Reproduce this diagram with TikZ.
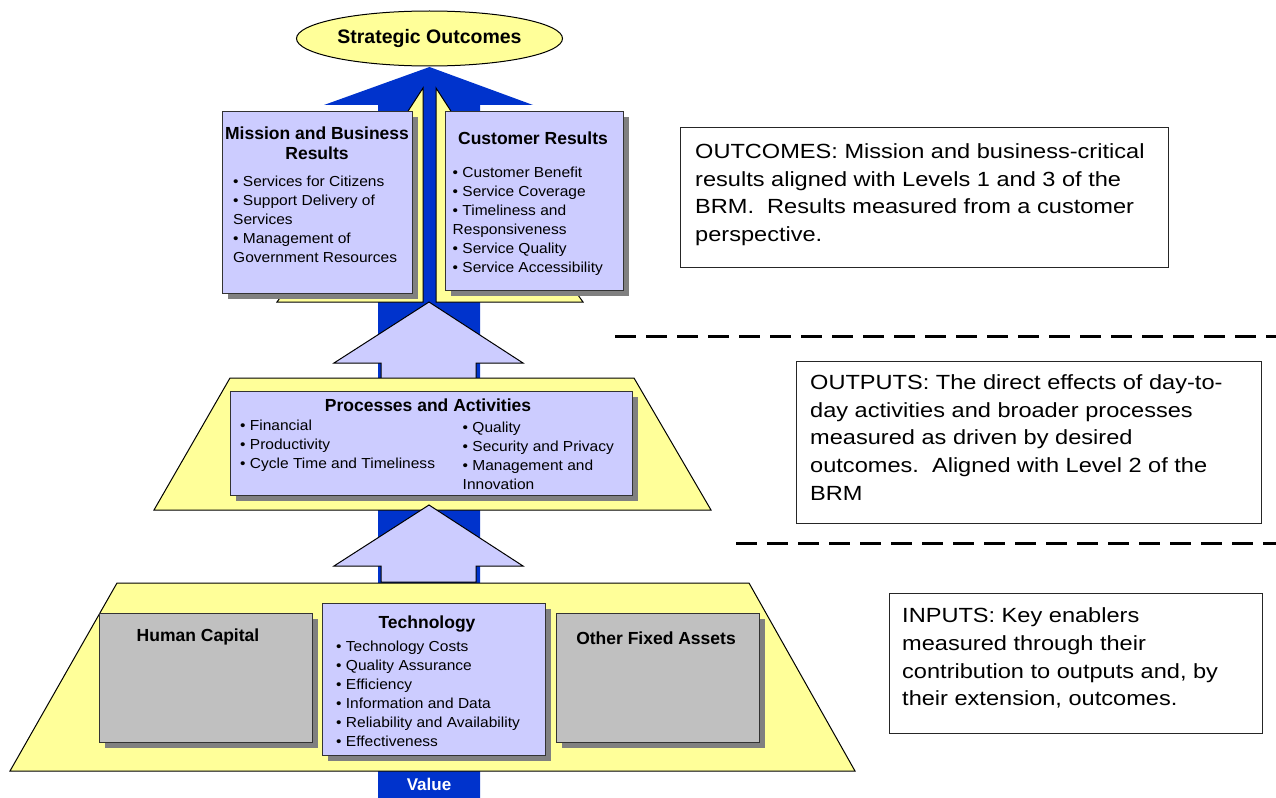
\documentclass[tikz,border=0pt]{standalone}
\usepackage{fontspec}
\setmainfont{Liberation Sans}
\newfontfamily\notefont[FakeStretch=1.15]{Liberation Sans}
\newfontfamily\itemfont[FakeStretch=1.07]{Liberation Sans}
\usetikzlibrary{shapes.geometric,shadows}
\definecolor{brmyellow}{HTML}{FFFF99}
\definecolor{brmlav}{HTML}{CCCCFF}
\definecolor{brmblue}{HTML}{0033CC}
\definecolor{brmgray}{HTML}{C0C0C0}
\definecolor{brmshade}{HTML}{808080}

\begin{document}
\begin{tikzpicture}[x=1bp,y=-1bp,
    level box/.style={draw=black!80,line width=1.2bp,anchor=north west,inner sep=0pt,
      drop shadow={shadow xshift=5bp,shadow yshift=-5.5bp,fill=brmshade,opacity=1}},
    lav box/.style={level box,fill=brmlav},
    grey box/.style={level box,fill=brmgray},
    note box/.style={draw=black!85,line width=1.2bp,fill=white,anchor=north west,inner sep=0pt},
    box title/.style={font=\fontsize{17.5bp}{20bp}\selectfont\bfseries,align=center,anchor=base,inner sep=0pt},
    item list/.style={font=\itemfont\fontsize{14.5bp}{19bp}\selectfont,align=left,anchor=north west,inner sep=0pt},
    note text/.style={font=\notefont\fontsize{20.5bp}{27.7bp}\selectfont,align=left,anchor=north west,inner sep=0pt},
    band/.style={fill=brmyellow,draw=black,line width=1bp},
    lift arrow/.style={fill=brmlav,draw=black,line width=1bp},
    level line/.style={line width=3bp,dash pattern=on 21bp off 10bp}]
  \useasboundingbox (0,0) rectangle (1276,798);

  \fill[brmblue] (378,798) -- (378,105) -- (324,105) -- (429.5,67) -- (533,105) -- (480,105) -- (480,798) -- cycle;
  \draw[band] (277,302) -- (423,302) -- (423,88) -- (401,122) -- (330,122) -- (300,270) -- cycle;
  \draw[band] (436,302) -- (583,302) -- (560,270) -- (560,122) -- (458,122) -- (436,88) -- cycle;

  \node[lav box,minimum width=190bp,minimum height=182bp] (mission) at (222,111) {};
  \node[lav box,minimum width=178bp,minimum height=179bp] (customer) at (445,111) {};
  \node[box title,anchor=north] (missionT) at (317,126.5) {Mission and Business\\Results};
  \node[item list] (missionL) at (233,175.4) {• Services for Citizens\\• Support Delivery of\\Services\\• Management of\\Government Resources};
  \node[box title] (customerT) at (533,144) {Customer Results};
  \node[item list] (customerL) at (452.5,166.6) {• Customer Benefit\\• Service Coverage\\• Timeliness and\\Responsiveness\\• Service Quality\\• Service Accessibility};

  \draw[lift arrow] (381,385) -- (381,363) -- (334,363) -- (429,302) -- (523,363) -- (476,363) -- (476,385) -- cycle;
  \draw[band] (154,510) -- (230,378) -- (634,378) -- (711,510) -- cycle;
  \node[lav box,minimum width=402bp,minimum height=104bp] (process) at (230,391) {};
  \node[box title] (processT) at (428,411.5) {Processes and Activities};
  \node[item list] (processL) at (240,419.6) {• Financial\\• Productivity\\• Cycle Time and Timeliness};
  \node[item list] (processR) at (462.5,421.6) {• Quality\\• Security and Privacy\\• Management and\\Innovation};

  \draw[lift arrow] (381,582) -- (381,566) -- (334,566) -- (429,505) -- (523,566) -- (476,566) -- (476,582) -- cycle;
  \draw[band] (10,771) -- (117,583) -- (749,583) -- (855,771) -- cycle;
  \node[grey box,minimum width=213bp,minimum height=129bp] (human) at (99,613) {};
  \node[lav box,minimum width=223bp,minimum height=152bp] (tech) at (322,603) {};
  \node[grey box,minimum width=203bp,minimum height=129bp] (assets) at (556,613) {};
  \node[box title] (humanT) at (198,641.3) {Human Capital};
  \node[box title] (techT) at (427,628.3) {Technology};
  \node[item list] (techL) at (336,640.6) {• Technology Costs\\• Quality Assurance\\• Efficiency\\• Information and Data\\• Reliability and Availability\\• Effectiveness};
  \node[box title] (assetsT) at (656,644.3) {Other Fixed Assets};
  \node[box title,font=\fontsize{17bp}{20bp}\selectfont\bfseries,text=white] (value) at (429,790) {Value};

  \node[ellipse,draw=black,line width=1bp,fill=brmyellow,minimum width=266bp,minimum height=55bp,inner sep=0pt,
        font=\fontsize{19.5bp}{24bp}\selectfont\bfseries] (goal) at (429.5,38.5) {Strategic Outcomes};

  \node[note box,minimum width=488bp,minimum height=140bp] (outcomes) at (680,127) {};
  \node[note text] (outcomesT) at (695,143.3) {OUTCOMES: Mission and business-critical\\results aligned with Levels 1 and 3 of the\\BRM.\ \ Results measured from a customer\\perspective.};
  \node[note box,minimum width=465bp,minimum height=162bp] (outputs) at (796,361) {};
  \node[note text] (outputsT) at (810,374.3) {OUTPUTS: The direct effects of day-to-\\day activities and broader processes\\measured as driven by desired\\outcomes.\ \ Aligned with Level 2 of the\\BRM};
  \node[note box,minimum width=373bp,minimum height=140bp] (inputs) at (889,593) {};
  \node[note text] (inputsT) at (902,607.7) {INPUTS: Key enablers\\measured through their\\contribution to outputs and, by\\their extension, outcomes.};

  \draw[level line] (615,336) -- (1276,336);
  \draw[level line] (736,543) -- (1276,543);
\end{tikzpicture}
\end{document}
